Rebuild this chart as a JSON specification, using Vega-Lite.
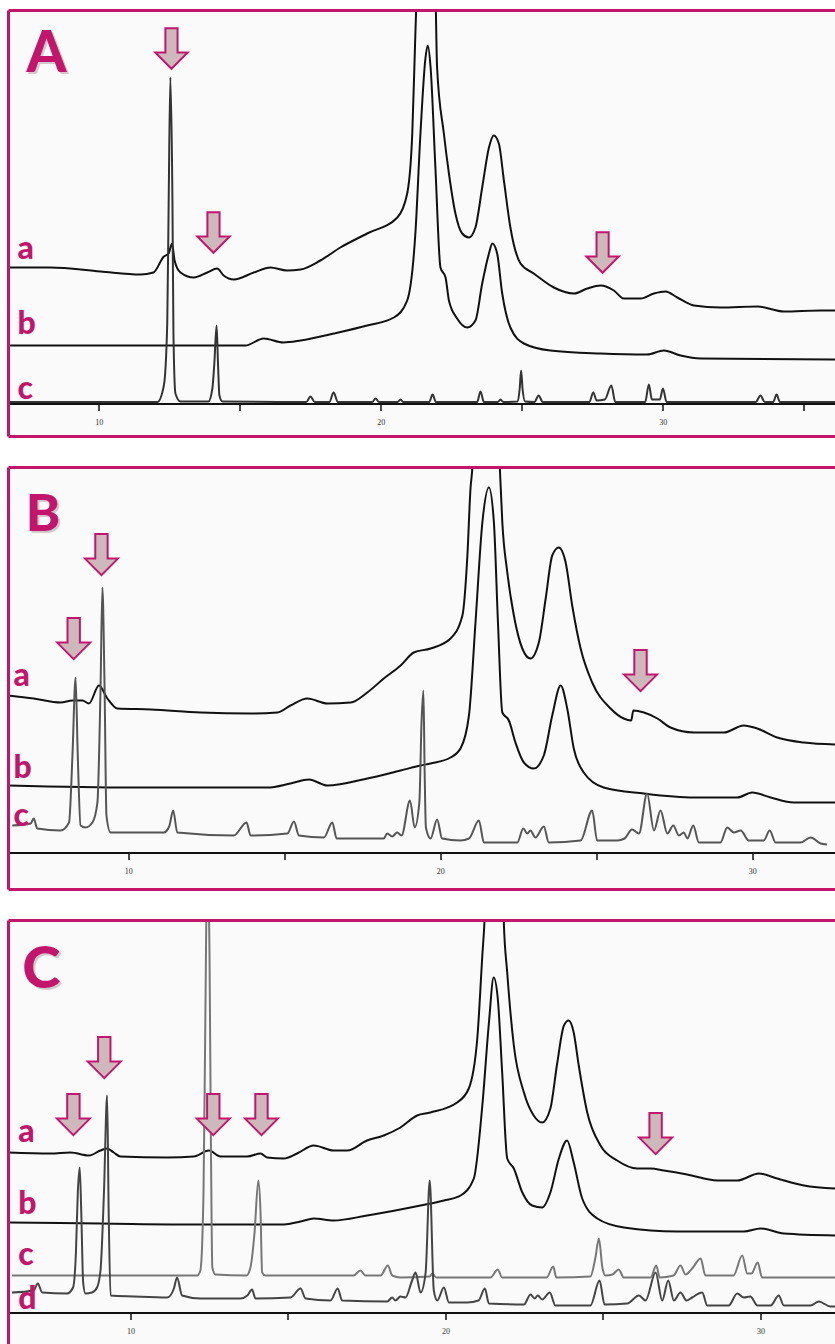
{
  "$schema": "https://vega.github.io/schema/vega-lite/v6.json",
  "background": "white",
  "padding": {"left": 6.5, "top": 8.5, "right": 0, "bottom": 0},
  "bounds": "flush",
  "spacing": 31,
  "config": {
    "view": {"stroke": null, "fill": "#FAFAFA"},
    "axis": {"grid": false}
  },
  "resolve": {"scale": {"x": "independent", "y": "independent", "color": "independent", "strokeWidth": "independent"}},
  "datasets": {
    "traceA": [
      {"trace":"a","rt":6.80,"resp":136},{"trace":"a","rt":8.29,"resp":136},{"trace":"a","rt":10.06,"resp":132},{"trace":"a","rt":11.48,"resp":129},{"trace":"a","rt":11.94,"resp":131},{"trace":"a","rt":12.31,"resp":147},{"trace":"a","rt":12.48,"resp":150},{"trace":"a","rt":12.60,"resp":160},{"trace":"a","rt":12.69,"resp":143},{"trace":"a","rt":12.90,"resp":131},{"trace":"a","rt":13.37,"resp":126},{"trace":"a","rt":13.85,"resp":131},{"trace":"a","rt":14.20,"resp":135},{"trace":"a","rt":14.43,"resp":128},{"trace":"a","rt":14.79,"resp":124},{"trace":"a","rt":15.50,"resp":131},{"trace":"a","rt":16.09,"resp":136},{"trace":"a","rt":16.68,"resp":133},{"trace":"a","rt":17.16,"resp":134},{"trace":"a","rt":17.86,"resp":143},{"trace":"a","rt":18.57,"resp":156},{"trace":"a","rt":19.52,"resp":170},{"trace":"a","rt":20.59,"resp":186},{"trace":"a","rt":20.94,"resp":210},{"trace":"a","rt":21.12,"resp":270},{"trace":"a","rt":21.23,"resp":370},{"trace":"a","rt":21.30,"resp":430},{"trace":"a","rt":21.45,"resp":600},{"trace":"a","rt":21.62,"resp":640},{"trace":"a","rt":21.80,"resp":560},{"trace":"a","rt":21.94,"resp":420},{"trace":"a","rt":22.00,"resp":336},{"trace":"a","rt":22.24,"resp":270},{"trace":"a","rt":22.42,"resp":230},{"trace":"a","rt":22.65,"resp":190},{"trace":"a","rt":22.89,"resp":170},{"trace":"a","rt":23.13,"resp":166},{"trace":"a","rt":23.36,"resp":176},{"trace":"a","rt":23.60,"resp":216},{"trace":"a","rt":23.84,"resp":256},{"trace":"a","rt":24.01,"resp":268},{"trace":"a","rt":24.19,"resp":260},{"trace":"a","rt":24.37,"resp":223},{"trace":"a","rt":24.60,"resp":176},{"trace":"a","rt":24.96,"resp":140},{"trace":"a","rt":25.43,"resp":130},{"trace":"a","rt":26.14,"resp":116},{"trace":"a","rt":26.85,"resp":110},{"trace":"a","rt":27.33,"resp":115},{"trace":"a","rt":27.80,"resp":118},{"trace":"a","rt":28.27,"resp":113},{"trace":"a","rt":28.62,"resp":105},{"trace":"a","rt":29.22,"resp":105},{"trace":"a","rt":29.69,"resp":110},{"trace":"a","rt":30.10,"resp":112},{"trace":"a","rt":30.52,"resp":106},{"trace":"a","rt":31.11,"resp":98},{"trace":"a","rt":32.05,"resp":96},{"trace":"a","rt":33.36,"resp":97},{"trace":"a","rt":34.30,"resp":92},{"trace":"a","rt":35.60,"resp":93},{"trace":"a","rt":36.13,"resp":93},
      {"trace":"b","rt":6.80,"resp":58},{"trace":"b","rt":15.20,"resp":58},{"trace":"b","rt":15.85,"resp":65},{"trace":"b","rt":16.55,"resp":61},{"trace":"b","rt":17.16,"resp":63},{"trace":"b","rt":18.34,"resp":70},{"trace":"b","rt":19.52,"resp":78},{"trace":"b","rt":20.47,"resp":86},{"trace":"b","rt":20.94,"resp":103},{"trace":"b","rt":21.23,"resp":170},{"trace":"b","rt":21.41,"resp":270},{"trace":"b","rt":21.59,"resp":346},{"trace":"b","rt":21.67,"resp":358},{"trace":"b","rt":21.77,"resp":336},{"trace":"b","rt":21.94,"resp":236},{"trace":"b","rt":22.12,"resp":136},{"trace":"b","rt":22.30,"resp":126},{"trace":"b","rt":22.42,"resp":103},{"trace":"b","rt":22.71,"resp":85},{"trace":"b","rt":23.07,"resp":76},{"trace":"b","rt":23.36,"resp":83},{"trace":"b","rt":23.60,"resp":120},{"trace":"b","rt":23.84,"resp":150},{"trace":"b","rt":23.96,"resp":160},{"trace":"b","rt":24.13,"resp":150},{"trace":"b","rt":24.31,"resp":110},{"trace":"b","rt":24.60,"resp":76},{"trace":"b","rt":25.08,"resp":60},{"trace":"b","rt":26.02,"resp":53},{"trace":"b","rt":27.80,"resp":50},{"trace":"b","rt":29.45,"resp":49},{"trace":"b","rt":30.04,"resp":53},{"trace":"b","rt":30.64,"resp":48},{"trace":"b","rt":31.35,"resp":45},{"trace":"b","rt":36.13,"resp":44},
      {"trace":"c","rt":6.80,"resp":1.5},{"trace":"c","rt":12.08,"resp":1.5},{"trace":"c","rt":12.31,"resp":18},{"trace":"c","rt":12.43,"resp":80},{"trace":"c","rt":12.48,"resp":200},{"trace":"c","rt":12.54,"resp":326},{"trace":"c","rt":12.615,"resp":200},{"trace":"c","rt":12.65,"resp":70},{"trace":"c","rt":12.72,"resp":10},{"trace":"c","rt":12.90,"resp":2},{"trace":"c","rt":13.89,"resp":2},{"trace":"c","rt":14.03,"resp":15},{"trace":"c","rt":14.10,"resp":40},{"trace":"c","rt":14.18,"resp":78},{"trace":"c","rt":14.23,"resp":40},{"trace":"c","rt":14.28,"resp":8},{"trace":"c","rt":14.39,"resp":2},{"trace":"c","rt":17.36,"resp":1.5},{"trace":"c","rt":17.51,"resp":7},{"trace":"c","rt":17.66,"resp":1.5},{"trace":"c","rt":18.18,"resp":1.5},{"trace":"c","rt":18.33,"resp":11},{"trace":"c","rt":18.48,"resp":1.5},{"trace":"c","rt":19.70,"resp":1.5},{"trace":"c","rt":19.82,"resp":5},{"trace":"c","rt":19.94,"resp":1.5},{"trace":"c","rt":20.60,"resp":1.5},{"trace":"c","rt":20.70,"resp":4},{"trace":"c","rt":20.80,"resp":1.5},{"trace":"c","rt":21.72,"resp":1.5},{"trace":"c","rt":21.84,"resp":9},{"trace":"c","rt":21.96,"resp":1.5},{"trace":"c","rt":23.42,"resp":1.5},{"trace":"c","rt":23.54,"resp":12},{"trace":"c","rt":23.66,"resp":1.5},{"trace":"c","rt":24.15,"resp":1.5},{"trace":"c","rt":24.25,"resp":4},{"trace":"c","rt":24.35,"resp":1.5},{"trace":"c","rt":24.86,"resp":2},{"trace":"c","rt":24.93,"resp":15},{"trace":"c","rt":24.98,"resp":33},{"trace":"c","rt":25.03,"resp":15},{"trace":"c","rt":25.12,"resp":2},{"trace":"c","rt":25.45,"resp":1.5},{"trace":"c","rt":25.60,"resp":8},{"trace":"c","rt":25.75,"resp":1.5},{"trace":"c","rt":27.40,"resp":1.5},{"trace":"c","rt":27.54,"resp":11},{"trace":"c","rt":27.66,"resp":3},{"trace":"c","rt":27.95,"resp":4},{"trace":"c","rt":28.18,"resp":18},{"trace":"c","rt":28.32,"resp":1.5},{"trace":"c","rt":29.38,"resp":1.5},{"trace":"c","rt":29.51,"resp":19},{"trace":"c","rt":29.62,"resp":4},{"trace":"c","rt":29.90,"resp":4},{"trace":"c","rt":30.01,"resp":15},{"trace":"c","rt":30.14,"resp":1.5},{"trace":"c","rt":33.30,"resp":1.5},{"trace":"c","rt":33.47,"resp":8},{"trace":"c","rt":33.62,"resp":1.5},{"trace":"c","rt":33.92,"resp":1.5},{"trace":"c","rt":34.04,"resp":9},{"trace":"c","rt":34.16,"resp":1.5},{"trace":"c","rt":36.13,"resp":1.5}
    ],
    "traceB": [
      {"trace":"a","rt":6.16,"resp":157},{"trace":"a","rt":6.97,"resp":154},{"trace":"a","rt":7.83,"resp":150},{"trace":"a","rt":8.21,"resp":152},{"trace":"a","rt":8.53,"resp":152},{"trace":"a","rt":8.74,"resp":149},{"trace":"a","rt":9.06,"resp":167},{"trace":"a","rt":9.33,"resp":154},{"trace":"a","rt":9.65,"resp":144},{"trace":"a","rt":10.72,"resp":143},{"trace":"a","rt":12.32,"resp":140},{"trace":"a","rt":13.92,"resp":139},{"trace":"a","rt":14.78,"resp":140},{"trace":"a","rt":15.20,"resp":147},{"trace":"a","rt":15.74,"resp":154},{"trace":"a","rt":16.38,"resp":149},{"trace":"a","rt":17.13,"resp":150},{"trace":"a","rt":17.66,"resp":160},{"trace":"a","rt":18.19,"resp":174},{"trace":"a","rt":18.73,"resp":187},{"trace":"a","rt":19.15,"resp":200},{"trace":"a","rt":19.69,"resp":204},{"trace":"a","rt":20.33,"resp":214},{"trace":"a","rt":20.71,"resp":237},{"trace":"a","rt":20.87,"resp":297},{"trace":"a","rt":20.97,"resp":364},{"trace":"a","rt":21.03,"resp":385},{"trace":"a","rt":21.20,"resp":560},{"trace":"a","rt":21.45,"resp":620},{"trace":"a","rt":21.70,"resp":560},{"trace":"a","rt":21.91,"resp":385},{"trace":"a","rt":21.99,"resp":330},{"trace":"a","rt":22.15,"resp":280},{"trace":"a","rt":22.36,"resp":237},{"trace":"a","rt":22.63,"resp":204},{"trace":"a","rt":22.89,"resp":194},{"trace":"a","rt":23.16,"resp":210},{"trace":"a","rt":23.38,"resp":254},{"trace":"a","rt":23.59,"resp":297},{"trace":"a","rt":23.80,"resp":305},{"trace":"a","rt":24.02,"resp":290},{"trace":"a","rt":24.23,"resp":247},{"trace":"a","rt":24.50,"resp":204},{"trace":"a","rt":24.87,"resp":170},{"trace":"a","rt":25.46,"resp":144},{"trace":"a","rt":25.88,"resp":134},{"trace":"a","rt":26.12,"resp":132},{"trace":"a","rt":26.19,"resp":142},{"trace":"a","rt":26.53,"resp":140},{"trace":"a","rt":26.96,"resp":134},{"trace":"a","rt":27.38,"resp":125},{"trace":"a","rt":28.13,"resp":120},{"trace":"a","rt":29.09,"resp":120},{"trace":"a","rt":29.73,"resp":127},{"trace":"a","rt":30.16,"resp":124},{"trace":"a","rt":30.80,"resp":115},{"trace":"a","rt":31.65,"resp":110},{"trace":"a","rt":32.67,"resp":108},
      {"trace":"b","rt":6.16,"resp":67},{"trace":"b","rt":10.17,"resp":65},{"trace":"b","rt":14.46,"resp":65},{"trace":"b","rt":15.20,"resp":69},{"trace":"b","rt":15.79,"resp":73},{"trace":"b","rt":16.38,"resp":67},{"trace":"b","rt":17.66,"resp":74},{"trace":"b","rt":18.73,"resp":82},{"trace":"b","rt":19.37,"resp":87},{"trace":"b","rt":19.69,"resp":89},{"trace":"b","rt":20.33,"resp":95},{"trace":"b","rt":20.65,"resp":104},{"trace":"b","rt":20.92,"resp":137},{"trace":"b","rt":21.13,"resp":230},{"trace":"b","rt":21.35,"resp":330},{"trace":"b","rt":21.56,"resp":365},{"trace":"b","rt":21.72,"resp":330},{"trace":"b","rt":21.85,"resp":230},{"trace":"b","rt":21.99,"resp":140},{"trace":"b","rt":22.20,"resp":132},{"trace":"b","rt":22.41,"resp":110},{"trace":"b","rt":22.68,"resp":90},{"trace":"b","rt":23.00,"resp":84},{"trace":"b","rt":23.32,"resp":97},{"trace":"b","rt":23.59,"resp":137},{"trace":"b","rt":23.86,"resp":167},{"trace":"b","rt":24.07,"resp":144},{"trace":"b","rt":24.28,"resp":104},{"trace":"b","rt":24.60,"resp":80},{"trace":"b","rt":25.24,"resp":65},{"trace":"b","rt":26.53,"resp":59},{"trace":"b","rt":28.13,"resp":55},{"trace":"b","rt":29.52,"resp":55},{"trace":"b","rt":30.00,"resp":60},{"trace":"b","rt":30.59,"resp":55},{"trace":"b","rt":31.33,"resp":50},{"trace":"b","rt":32.67,"resp":50},
      {"trace":"c","rt":6.28,"resp":27},{"trace":"c","rt":6.87,"resp":29},{"trace":"c","rt":6.97,"resp":34},{"trace":"c","rt":7.08,"resp":24},{"trace":"c","rt":7.83,"resp":22},{"trace":"c","rt":8.10,"resp":30},{"trace":"c","rt":8.21,"resp":97},{"trace":"c","rt":8.31,"resp":175},{"trace":"c","rt":8.38,"resp":97},{"trace":"c","rt":8.47,"resp":27},{"trace":"c","rt":8.63,"resp":25},{"trace":"c","rt":8.85,"resp":30},{"trace":"c","rt":9.01,"resp":50},{"trace":"c","rt":9.11,"resp":164},{"trace":"c","rt":9.17,"resp":265},{"trace":"c","rt":9.24,"resp":164},{"trace":"c","rt":9.30,"resp":37},{"trace":"c","rt":9.43,"resp":20},{"trace":"c","rt":11.14,"resp":20},{"trace":"c","rt":11.31,"resp":26},{"trace":"c","rt":11.44,"resp":42},{"trace":"c","rt":11.57,"resp":20},{"trace":"c","rt":13.38,"resp":17},{"trace":"c","rt":13.79,"resp":30},{"trace":"c","rt":13.92,"resp":17},{"trace":"c","rt":15.10,"resp":19},{"trace":"c","rt":15.31,"resp":31},{"trace":"c","rt":15.47,"resp":17},{"trace":"c","rt":16.27,"resp":15},{"trace":"c","rt":16.54,"resp":30},{"trace":"c","rt":16.68,"resp":14},{"trace":"c","rt":18.19,"resp":14},{"trace":"c","rt":18.30,"resp":19},{"trace":"c","rt":18.46,"resp":16},{"trace":"c","rt":18.62,"resp":20},{"trace":"c","rt":18.76,"resp":17},{"trace":"c","rt":19.03,"resp":52},{"trace":"c","rt":19.18,"resp":25},{"trace":"c","rt":19.33,"resp":50},{"trace":"c","rt":19.40,"resp":130},{"trace":"c","rt":19.46,"resp":162},{"trace":"c","rt":19.50,"resp":80},{"trace":"c","rt":19.54,"resp":25},{"trace":"c","rt":19.69,"resp":14},{"trace":"c","rt":19.90,"resp":33},{"trace":"c","rt":20.06,"resp":14},{"trace":"c","rt":20.65,"resp":12},{"trace":"c","rt":20.92,"resp":14},{"trace":"c","rt":21.24,"resp":32},{"trace":"c","rt":21.40,"resp":10},{"trace":"c","rt":22.47,"resp":10},{"trace":"c","rt":22.66,"resp":24},{"trace":"c","rt":22.79,"resp":19},{"trace":"c","rt":22.89,"resp":22},{"trace":"c","rt":23.05,"resp":15},{"trace":"c","rt":23.32,"resp":26},{"trace":"c","rt":23.48,"resp":10},{"trace":"c","rt":24.50,"resp":12},{"trace":"c","rt":24.87,"resp":42},{"trace":"c","rt":25.03,"resp":12},{"trace":"c","rt":25.67,"resp":12},{"trace":"c","rt":25.91,"resp":14},{"trace":"c","rt":26.15,"resp":23},{"trace":"c","rt":26.37,"resp":19},{"trace":"c","rt":26.63,"resp":59},{"trace":"c","rt":26.85,"resp":22},{"trace":"c","rt":27.06,"resp":42},{"trace":"c","rt":27.28,"resp":19},{"trace":"c","rt":27.47,"resp":27},{"trace":"c","rt":27.65,"resp":17},{"trace":"c","rt":27.81,"resp":20},{"trace":"c","rt":27.92,"resp":14},{"trace":"c","rt":28.11,"resp":27},{"trace":"c","rt":28.29,"resp":10},{"trace":"c","rt":28.98,"resp":10},{"trace":"c","rt":29.20,"resp":25},{"trace":"c","rt":29.41,"resp":20},{"trace":"c","rt":29.63,"resp":22},{"trace":"c","rt":29.89,"resp":12},{"trace":"c","rt":30.37,"resp":12},{"trace":"c","rt":30.56,"resp":22},{"trace":"c","rt":30.75,"resp":10},{"trace":"c","rt":31.55,"resp":10},{"trace":"c","rt":31.87,"resp":15},{"trace":"c","rt":32.19,"resp":9},{"trace":"c","rt":32.40,"resp":8}
    ],
    "traceC": [
      {"trace":"a","rt":6.13,"resp":160},{"trace":"a","rt":7.46,"resp":159},{"trace":"a","rt":8.10,"resp":160},{"trace":"a","rt":8.68,"resp":157},{"trace":"a","rt":9.05,"resp":162},{"trace":"a","rt":9.26,"resp":164},{"trace":"a","rt":9.47,"resp":160},{"trace":"a","rt":9.68,"resp":156},{"trace":"a","rt":11.17,"resp":155},{"trace":"a","rt":12.01,"resp":156},{"trace":"a","rt":12.49,"resp":162},{"trace":"a","rt":12.86,"resp":156},{"trace":"a","rt":13.71,"resp":156},{"trace":"a","rt":14.13,"resp":159},{"trace":"a","rt":14.34,"resp":155},{"trace":"a","rt":14.87,"resp":154},{"trace":"a","rt":15.29,"resp":159},{"trace":"a","rt":15.82,"resp":167},{"trace":"a","rt":16.45,"resp":162},{"trace":"a","rt":16.88,"resp":162},{"trace":"a","rt":17.51,"resp":172},{"trace":"a","rt":18.04,"resp":177},{"trace":"a","rt":18.57,"resp":185},{"trace":"a","rt":19.10,"resp":197},{"trace":"a","rt":19.52,"resp":200},{"trace":"a","rt":20.37,"resp":210},{"trace":"a","rt":20.74,"resp":224},{"trace":"a","rt":21.01,"resp":274},{"trace":"a","rt":21.17,"resp":357},{"trace":"a","rt":21.24,"resp":392},{"trace":"a","rt":21.40,"resp":560},{"trace":"a","rt":21.60,"resp":600},{"trace":"a","rt":21.80,"resp":520},{"trace":"a","rt":21.85,"resp":392},{"trace":"a","rt":21.96,"resp":340},{"trace":"a","rt":22.17,"resp":267},{"trace":"a","rt":22.49,"resp":220},{"trace":"a","rt":22.80,"resp":197},{"trace":"a","rt":23.07,"resp":190},{"trace":"a","rt":23.33,"resp":204},{"trace":"a","rt":23.55,"resp":250},{"trace":"a","rt":23.76,"resp":287},{"trace":"a","rt":23.91,"resp":292},{"trace":"a","rt":24.07,"resp":280},{"trace":"a","rt":24.23,"resp":247},{"trace":"a","rt":24.50,"resp":200},{"trace":"a","rt":24.92,"resp":167},{"trace":"a","rt":25.45,"resp":152},{"trace":"a","rt":26.09,"resp":144},{"trace":"a","rt":26.51,"resp":144},{"trace":"a","rt":26.93,"resp":142},{"trace":"a","rt":27.67,"resp":138},{"trace":"a","rt":28.63,"resp":132},{"trace":"a","rt":29.26,"resp":132},{"trace":"a","rt":29.95,"resp":139},{"trace":"a","rt":30.53,"resp":134},{"trace":"a","rt":31.38,"resp":127},{"trace":"a","rt":32.38,"resp":124},
      {"trace":"b","rt":6.13,"resp":90},{"trace":"b","rt":9.05,"resp":89},{"trace":"b","rt":12.22,"resp":88},{"trace":"b","rt":14.87,"resp":88},{"trace":"b","rt":15.40,"resp":91},{"trace":"b","rt":15.82,"resp":94},{"trace":"b","rt":16.45,"resp":92},{"trace":"b","rt":17.51,"resp":97},{"trace":"b","rt":18.57,"resp":103},{"trace":"b","rt":19.21,"resp":107},{"trace":"b","rt":19.95,"resp":112},{"trace":"b","rt":20.48,"resp":117},{"trace":"b","rt":20.90,"resp":134},{"trace":"b","rt":21.17,"resp":207},{"trace":"b","rt":21.38,"resp":290},{"trace":"b","rt":21.53,"resp":335},{"trace":"b","rt":21.66,"resp":314},{"trace":"b","rt":21.80,"resp":240},{"trace":"b","rt":21.96,"resp":154},{"trace":"b","rt":22.17,"resp":144},{"trace":"b","rt":22.44,"resp":120},{"trace":"b","rt":22.75,"resp":107},{"trace":"b","rt":23.07,"resp":105},{"trace":"b","rt":23.33,"resp":120},{"trace":"b","rt":23.60,"resp":154},{"trace":"b","rt":23.86,"resp":172},{"trace":"b","rt":24.07,"resp":150},{"trace":"b","rt":24.34,"resp":114},{"trace":"b","rt":24.82,"resp":94},{"trace":"b","rt":25.66,"resp":85},{"trace":"b","rt":27.36,"resp":81},{"trace":"b","rt":29.47,"resp":81},{"trace":"b","rt":30.00,"resp":84},{"trace":"b","rt":30.74,"resp":79},{"trace":"b","rt":32.38,"resp":77},
      {"trace":"c","rt":6.24,"resp":37},{"trace":"c","rt":12.12,"resp":37},{"trace":"c","rt":12.22,"resp":42},{"trace":"c","rt":12.32,"resp":120},{"trace":"c","rt":12.38,"resp":300},{"trace":"c","rt":12.44,"resp":460},{"trace":"c","rt":12.51,"resp":360},{"trace":"c","rt":12.56,"resp":150},{"trace":"c","rt":12.60,"resp":45},{"trace":"c","rt":12.70,"resp":38},{"trace":"c","rt":13.68,"resp":37},{"trace":"c","rt":13.81,"resp":45},{"trace":"c","rt":13.94,"resp":80},{"trace":"c","rt":14.06,"resp":132},{"trace":"c","rt":14.13,"resp":100},{"trace":"c","rt":14.18,"resp":40},{"trace":"c","rt":14.29,"resp":37},{"trace":"c","rt":17.08,"resp":37},{"trace":"c","rt":17.30,"resp":42},{"trace":"c","rt":17.46,"resp":37},{"trace":"c","rt":17.94,"resp":37},{"trace":"c","rt":18.17,"resp":47},{"trace":"c","rt":18.31,"resp":37},{"trace":"c","rt":18.57,"resp":35},{"trace":"c","rt":19.50,"resp":36},{"trace":"c","rt":19.58,"resp":39},{"trace":"c","rt":19.71,"resp":35},{"trace":"c","rt":21.43,"resp":35},{"trace":"c","rt":21.66,"resp":43},{"trace":"c","rt":21.80,"resp":35},{"trace":"c","rt":23.21,"resp":35},{"trace":"c","rt":23.42,"resp":46},{"trace":"c","rt":23.52,"resp":35},{"trace":"c","rt":24.60,"resp":36},{"trace":"c","rt":24.76,"resp":55},{"trace":"c","rt":24.87,"resp":74},{"trace":"c","rt":24.98,"resp":45},{"trace":"c","rt":25.08,"resp":37},{"trace":"c","rt":25.30,"resp":38},{"trace":"c","rt":25.50,"resp":43},{"trace":"c","rt":25.66,"resp":35},{"trace":"c","rt":26.51,"resp":35},{"trace":"c","rt":26.69,"resp":47},{"trace":"c","rt":26.80,"resp":35},{"trace":"c","rt":27.24,"resp":37},{"trace":"c","rt":27.46,"resp":47},{"trace":"c","rt":27.62,"resp":38},{"trace":"c","rt":27.83,"resp":44},{"trace":"c","rt":28.10,"resp":54},{"trace":"c","rt":28.25,"resp":37},{"trace":"c","rt":29.14,"resp":37},{"trace":"c","rt":29.42,"resp":57},{"trace":"c","rt":29.58,"resp":39},{"trace":"c","rt":29.71,"resp":39},{"trace":"c","rt":29.91,"resp":50},{"trace":"c","rt":30.05,"resp":35},{"trace":"c","rt":32.38,"resp":35},
      {"trace":"d","rt":6.24,"resp":20},{"trace":"d","rt":6.93,"resp":22},{"trace":"d","rt":7.06,"resp":29},{"trace":"d","rt":7.20,"resp":20},{"trace":"d","rt":7.99,"resp":19},{"trace":"d","rt":8.18,"resp":25},{"trace":"d","rt":8.27,"resp":60},{"trace":"d","rt":8.33,"resp":120},{"trace":"d","rt":8.39,"resp":145},{"trace":"d","rt":8.44,"resp":100},{"trace":"d","rt":8.50,"resp":30},{"trace":"d","rt":8.57,"resp":19},{"trace":"d","rt":8.78,"resp":20},{"trace":"d","rt":8.94,"resp":25},{"trace":"d","rt":9.05,"resp":42},{"trace":"d","rt":9.16,"resp":120},{"trace":"d","rt":9.26,"resp":217},{"trace":"d","rt":9.31,"resp":100},{"trace":"d","rt":9.37,"resp":17},{"trace":"d","rt":10.11,"resp":16},{"trace":"d","rt":11.17,"resp":15},{"trace":"d","rt":11.38,"resp":24},{"trace":"d","rt":11.48,"resp":35},{"trace":"d","rt":11.64,"resp":17},{"trace":"d","rt":12.22,"resp":14},{"trace":"d","rt":13.49,"resp":14},{"trace":"d","rt":13.71,"resp":17},{"trace":"d","rt":13.86,"resp":23},{"trace":"d","rt":13.97,"resp":14},{"trace":"d","rt":15.08,"resp":15},{"trace":"d","rt":15.40,"resp":24},{"trace":"d","rt":15.56,"resp":14},{"trace":"d","rt":16.35,"resp":12},{"trace":"d","rt":16.58,"resp":24},{"trace":"d","rt":16.72,"resp":12},{"trace":"d","rt":18.15,"resp":11},{"trace":"d","rt":18.31,"resp":15},{"trace":"d","rt":18.41,"resp":12},{"trace":"d","rt":18.57,"resp":16},{"trace":"d","rt":18.73,"resp":15},{"trace":"d","rt":18.94,"resp":32},{"trace":"d","rt":19.05,"resp":40},{"trace":"d","rt":19.21,"resp":20},{"trace":"d","rt":19.37,"resp":40},{"trace":"d","rt":19.50,"resp":132},{"trace":"d","rt":19.63,"resp":22},{"trace":"d","rt":19.74,"resp":12},{"trace":"d","rt":19.95,"resp":25},{"trace":"d","rt":20.11,"resp":10},{"trace":"d","rt":20.69,"resp":10},{"trace":"d","rt":21.05,"resp":12},{"trace":"d","rt":21.25,"resp":24},{"trace":"d","rt":21.38,"resp":9},{"trace":"d","rt":22.49,"resp":8},{"trace":"d","rt":22.70,"resp":18},{"trace":"d","rt":22.83,"resp":14},{"trace":"d","rt":22.93,"resp":17},{"trace":"d","rt":23.07,"resp":13},{"trace":"d","rt":23.31,"resp":20},{"trace":"d","rt":23.49,"resp":7},{"trace":"d","rt":24.60,"resp":7},{"trace":"d","rt":24.89,"resp":32},{"trace":"d","rt":25.05,"resp":8},{"trace":"d","rt":25.77,"resp":9},{"trace":"d","rt":26.14,"resp":17},{"trace":"d","rt":26.35,"resp":12},{"trace":"d","rt":26.67,"resp":40},{"trace":"d","rt":26.88,"resp":12},{"trace":"d","rt":27.07,"resp":32},{"trace":"d","rt":27.25,"resp":12},{"trace":"d","rt":27.46,"resp":20},{"trace":"d","rt":27.65,"resp":12},{"trace":"d","rt":27.83,"resp":15},{"trace":"d","rt":28.15,"resp":20},{"trace":"d","rt":28.31,"resp":7},{"trace":"d","rt":28.99,"resp":7},{"trace":"d","rt":29.26,"resp":19},{"trace":"d","rt":29.47,"resp":15},{"trace":"d","rt":29.68,"resp":16},{"trace":"d","rt":29.90,"resp":7},{"trace":"d","rt":30.32,"resp":7},{"trace":"d","rt":30.58,"resp":17},{"trace":"d","rt":30.74,"resp":7},{"trace":"d","rt":31.59,"resp":7},{"trace":"d","rt":31.85,"resp":11},{"trace":"d","rt":32.22,"resp":6},{"trace":"d","rt":32.38,"resp":6}
    ]
  },
  "vconcat": [
    {
      "width": 827,
      "height": 426,
      "layer": [
        {
          "data": {"name": "traceA"},
          "mark": {"type": "line", "clip": true, "strokeJoin": "round", "interpolate": "monotone"},
          "encoding": {
            "x": {"field": "rt", "type": "quantitative", "scale": {"domain": [6.8, 36.13], "nice": false, "zero": false},
                  "axis": {"values": [10, 15, 20, 25, 30, 35], "labelExpr": "datum.value % 10 === 0 ? datum.label : ''", "offset": -33, "title": null, "domainColor": "#111111", "domainWidth": 2, "tickColor": "#111111", "tickWidth": 1.5, "tickSize": 7, "labelFont": "Liberation Serif", "labelFontSize": 8, "labelColor": "#333333", "labelPadding": 8, "labelFlush": false}},
            "y": {"field": "resp", "type": "quantitative", "scale": {"domain": [-33, 393], "nice": false, "zero": false}, "axis": null},
            "color": {"field": "trace", "type": "nominal", "scale": {"domain": ["a", "b", "c"], "range": ["#111111", "#111111", "#333333"]}, "legend": null},
            "strokeWidth": {"field": "trace", "type": "ordinal", "scale": {"domain": ["a", "b", "c"], "range": [2, 2, 1.3]}, "legend": null}
          }
        },
        {
          "data": {"values": [{"rt": 7.12, "resp": 145, "label": "a"}, {"rt": 7.12, "resp": 70, "label": "b"}, {"rt": 7.12, "resp": 5, "label": "c"}]},
          "mark": {"type": "text", "align": "left", "baseline": "alphabetic", "font": "Lato", "fontWeight": 900, "fontSize": 32, "color": "#C2166C"},
          "encoding": {
            "x": {"field": "rt", "type": "quantitative", "scale": {"domain": [6.8, 36.13], "nice": false, "zero": false}},
            "y": {"field": "resp", "type": "quantitative", "scale": {"domain": [-33, 393], "nice": false, "zero": false}, "axis": null},
            "text": {"field": "label"}
          }
        },
        {
          "data": {"values": [{"rt": 7.44, "resp": 332, "label": "A"}]},
          "mark": {"type": "text", "align": "left", "baseline": "alphabetic", "font": "Lato", "fontWeight": 900, "fontSize": 57, "color": "#B9A9B1", "opacity": 0.6, "dx": 2, "dy": 2},
          "encoding": {
            "x": {"field": "rt", "type": "quantitative", "scale": {"domain": [6.8, 36.13], "nice": false, "zero": false}},
            "y": {"field": "resp", "type": "quantitative", "scale": {"domain": [-33, 393], "nice": false, "zero": false}, "axis": null},
            "text": {"field": "label"}
          }
        },
        {
          "data": {"values": [{"rt": 7.44, "resp": 332, "label": "A"}]},
          "mark": {"type": "text", "align": "left", "baseline": "alphabetic", "font": "Lato", "fontWeight": 900, "fontSize": 57, "color": "#C2166C"},
          "encoding": {
            "x": {"field": "rt", "type": "quantitative", "scale": {"domain": [6.8, 36.13], "nice": false, "zero": false}},
            "y": {"field": "resp", "type": "quantitative", "scale": {"domain": [-33, 393], "nice": false, "zero": false}, "axis": null},
            "text": {"field": "label"}
          }
        },
        {
          "data": {"values": [{"rt": 12.58, "resp": 355}, {"rt": 14.07, "resp": 171}, {"rt": 27.87, "resp": 151}]},
          "mark": {"type": "point", "shape": "M -0.3 -1 L 0.3 -1 L 0.3 0.2 L 0.8 0.2 L 0 1 L -0.8 0.2 L -0.3 0.2 Z", "size": 1640, "filled": true, "fill": "#CDB9BB", "stroke": "#C2166C", "strokeWidth": 2, "opacity": 1},
          "encoding": {
            "x": {"field": "rt", "type": "quantitative", "scale": {"domain": [6.8, 36.13], "nice": false, "zero": false}},
            "y": {"field": "resp", "type": "quantitative", "scale": {"domain": [-33, 393], "nice": false, "zero": false}, "axis": null}
          }
        },
        {
          "data": {"values": [{"resp": 393}, {"resp": -33}]},
          "mark": {"type": "rule", "color": "#C2166C", "strokeWidth": 3},
          "encoding": {
            "y": {"field": "resp", "type": "quantitative", "scale": {"domain": [-33, 393], "nice": false, "zero": false}, "axis": null}
          }
        },
        {
          "data": {"values": [{"rt": 6.8}]},
          "mark": {"type": "rule", "color": "#C2166C", "strokeWidth": 3},
          "encoding": {
            "x": {"field": "rt", "type": "quantitative", "scale": {"domain": [6.8, 36.13], "nice": false, "zero": false}}
          }
        }
      ]
    },
    {
      "width": 827,
      "height": 422,
      "layer": [
        {
          "data": {"name": "traceB"},
          "mark": {"type": "line", "clip": true, "strokeJoin": "round", "interpolate": "monotone"},
          "encoding": {
            "x": {"field": "rt", "type": "quantitative", "scale": {"domain": [6.16, 32.67], "nice": false, "zero": false},
                  "axis": {"values": [10, 15, 20, 25, 30], "labelExpr": "datum.value % 10 === 0 ? datum.label : ''", "offset": -37, "title": null, "domainColor": "#111111", "domainWidth": 2, "tickColor": "#111111", "tickWidth": 1.5, "tickSize": 7, "labelFont": "Liberation Serif", "labelFontSize": 8, "labelColor": "#333333", "labelPadding": 8, "labelFlush": false}},
            "y": {"field": "resp", "type": "quantitative", "scale": {"domain": [-37, 385], "nice": false, "zero": false}, "axis": null},
            "color": {"field": "trace", "type": "nominal", "scale": {"domain": ["a", "b", "c"], "range": ["#111111", "#111111", "#555555"]}, "legend": null},
            "strokeWidth": {"field": "trace", "type": "ordinal", "scale": {"domain": ["a", "b", "c"], "range": [2, 2, 1.2]}, "legend": null}
          }
        },
        {
          "data": {"values": [{"rt": 6.32, "resp": 167, "label": "a"}, {"rt": 6.32, "resp": 75, "label": "b"}, {"rt": 6.32, "resp": 27, "label": "c"}]},
          "mark": {"type": "text", "align": "left", "baseline": "alphabetic", "font": "Lato", "fontWeight": 900, "fontSize": 32, "color": "#C2166C"},
          "encoding": {
            "x": {"field": "rt", "type": "quantitative", "scale": {"domain": [6.16, 32.67], "nice": false, "zero": false}},
            "y": {"field": "resp", "type": "quantitative", "scale": {"domain": [-37, 385], "nice": false, "zero": false}, "axis": null},
            "text": {"field": "label"}
          }
        },
        {
          "data": {"values": [{"rt": 6.71, "resp": 322, "label": "B"}]},
          "mark": {"type": "text", "align": "left", "baseline": "alphabetic", "font": "Lato", "fontWeight": 900, "fontSize": 52, "color": "#B9A9B1", "opacity": 0.6, "dx": 2, "dy": 2},
          "encoding": {
            "x": {"field": "rt", "type": "quantitative", "scale": {"domain": [6.16, 32.67], "nice": false, "zero": false}},
            "y": {"field": "resp", "type": "quantitative", "scale": {"domain": [-37, 385], "nice": false, "zero": false}, "axis": null},
            "text": {"field": "label"}
          }
        },
        {
          "data": {"values": [{"rt": 6.71, "resp": 322, "label": "B"}]},
          "mark": {"type": "text", "align": "left", "baseline": "alphabetic", "font": "Lato", "fontWeight": 900, "fontSize": 52, "color": "#C2166C"},
          "encoding": {
            "x": {"field": "rt", "type": "quantitative", "scale": {"domain": [6.16, 32.67], "nice": false, "zero": false}},
            "y": {"field": "resp", "type": "quantitative", "scale": {"domain": [-37, 385], "nice": false, "zero": false}, "axis": null},
            "text": {"field": "label"}
          }
        },
        {
          "data": {"values": [{"rt": 8.25, "resp": 214}, {"rt": 9.14, "resp": 298}, {"rt": 26.42, "resp": 182}]},
          "mark": {"type": "point", "shape": "M -0.3 -1 L 0.3 -1 L 0.3 0.2 L 0.8 0.2 L 0 1 L -0.8 0.2 L -0.3 0.2 Z", "size": 1700, "filled": true, "fill": "#CDB9BB", "stroke": "#C2166C", "strokeWidth": 2, "opacity": 1},
          "encoding": {
            "x": {"field": "rt", "type": "quantitative", "scale": {"domain": [6.16, 32.67], "nice": false, "zero": false}},
            "y": {"field": "resp", "type": "quantitative", "scale": {"domain": [-37, 385], "nice": false, "zero": false}, "axis": null}
          }
        },
        {
          "data": {"values": [{"resp": 385}, {"resp": -37}]},
          "mark": {"type": "rule", "color": "#C2166C", "strokeWidth": 3},
          "encoding": {
            "y": {"field": "resp", "type": "quantitative", "scale": {"domain": [-37, 385], "nice": false, "zero": false}, "axis": null}
          }
        },
        {
          "data": {"values": [{"rt": 6.16}]},
          "mark": {"type": "rule", "color": "#C2166C", "strokeWidth": 3},
          "encoding": {
            "x": {"field": "rt", "type": "quantitative", "scale": {"domain": [6.16, 32.67], "nice": false, "zero": false}}
          }
        }
      ]
    },
    {
      "width": 827,
      "height": 424,
      "layer": [
        {
          "data": {"name": "traceC"},
          "mark": {"type": "line", "clip": true, "strokeJoin": "round", "interpolate": "monotone"},
          "encoding": {
            "x": {"field": "rt", "type": "quantitative", "scale": {"domain": [6.13, 32.38], "nice": false, "zero": false},
                  "axis": {"values": [10, 15, 20, 25, 30], "labelExpr": "datum.value % 10 === 0 ? datum.label : ''", "offset": -32, "title": null, "domainColor": "#111111", "domainWidth": 2, "tickColor": "#111111", "tickWidth": 1.5, "tickSize": 7, "labelFont": "Liberation Serif", "labelFontSize": 8, "labelColor": "#333333", "labelPadding": 8, "labelFlush": false}},
            "y": {"field": "resp", "type": "quantitative", "scale": {"domain": [-32, 392], "nice": false, "zero": false}, "axis": null},
            "color": {"field": "trace", "type": "nominal", "scale": {"domain": ["a", "b", "c", "d"], "range": ["#111111", "#111111", "#777777", "#444444"]}, "legend": null},
            "strokeWidth": {"field": "trace", "type": "ordinal", "scale": {"domain": ["a", "b", "c", "d"], "range": [2, 2, 1.2, 1.2]}, "legend": null}
          }
        },
        {
          "data": {"values": [{"rt": 6.44, "resp": 171, "label": "a"}, {"rt": 6.44, "resp": 99, "label": "b"}, {"rt": 6.44, "resp": 48, "label": "c"}, {"rt": 6.44, "resp": 4, "label": "d"}]},
          "mark": {"type": "text", "align": "left", "baseline": "alphabetic", "font": "Lato", "fontWeight": 900, "fontSize": 32, "color": "#C2166C"},
          "encoding": {
            "x": {"field": "rt", "type": "quantitative", "scale": {"domain": [6.13, 32.38], "nice": false, "zero": false}},
            "y": {"field": "resp", "type": "quantitative", "scale": {"domain": [-32, 392], "nice": false, "zero": false}, "axis": null},
            "text": {"field": "label"}
          }
        },
        {
          "data": {"values": [{"rt": 6.57, "resp": 325, "label": "C"}]},
          "mark": {"type": "text", "align": "left", "baseline": "alphabetic", "font": "Lato", "fontWeight": 900, "fontSize": 58, "color": "#B9A9B1", "opacity": 0.6, "dx": 2, "dy": 2},
          "encoding": {
            "x": {"field": "rt", "type": "quantitative", "scale": {"domain": [6.13, 32.38], "nice": false, "zero": false}},
            "y": {"field": "resp", "type": "quantitative", "scale": {"domain": [-32, 392], "nice": false, "zero": false}, "axis": null},
            "text": {"field": "label"}
          }
        },
        {
          "data": {"values": [{"rt": 6.57, "resp": 325, "label": "C"}]},
          "mark": {"type": "text", "align": "left", "baseline": "alphabetic", "font": "Lato", "fontWeight": 900, "fontSize": 58, "color": "#C2166C"},
          "encoding": {
            "x": {"field": "rt", "type": "quantitative", "scale": {"domain": [6.13, 32.38], "nice": false, "zero": false}},
            "y": {"field": "resp", "type": "quantitative", "scale": {"domain": [-32, 392], "nice": false, "zero": false}, "axis": null},
            "text": {"field": "label"}
          }
        },
        {
          "data": {"values": [{"rt": 8.19, "resp": 198}, {"rt": 9.17, "resp": 255}, {"rt": 12.63, "resp": 198}, {"rt": 14.16, "resp": 198}, {"rt": 26.67, "resp": 179}]},
          "mark": {"type": "point", "shape": "M -0.3 -1 L 0.3 -1 L 0.3 0.2 L 0.8 0.2 L 0 1 L -0.8 0.2 L -0.3 0.2 Z", "size": 1700, "filled": true, "fill": "#CDB9BB", "stroke": "#C2166C", "strokeWidth": 2, "opacity": 1},
          "encoding": {
            "x": {"field": "rt", "type": "quantitative", "scale": {"domain": [6.13, 32.38], "nice": false, "zero": false}},
            "y": {"field": "resp", "type": "quantitative", "scale": {"domain": [-32, 392], "nice": false, "zero": false}, "axis": null}
          }
        },
        {
          "data": {"values": [{"resp": 392}]},
          "mark": {"type": "rule", "color": "#C2166C", "strokeWidth": 3},
          "encoding": {
            "y": {"field": "resp", "type": "quantitative", "scale": {"domain": [-32, 392], "nice": false, "zero": false}, "axis": null}
          }
        },
        {
          "data": {"values": [{"rt": 6.13}]},
          "mark": {"type": "rule", "color": "#C2166C", "strokeWidth": 3},
          "encoding": {
            "x": {"field": "rt", "type": "quantitative", "scale": {"domain": [6.13, 32.38], "nice": false, "zero": false}}
          }
        }
      ]
    }
  ]
}
